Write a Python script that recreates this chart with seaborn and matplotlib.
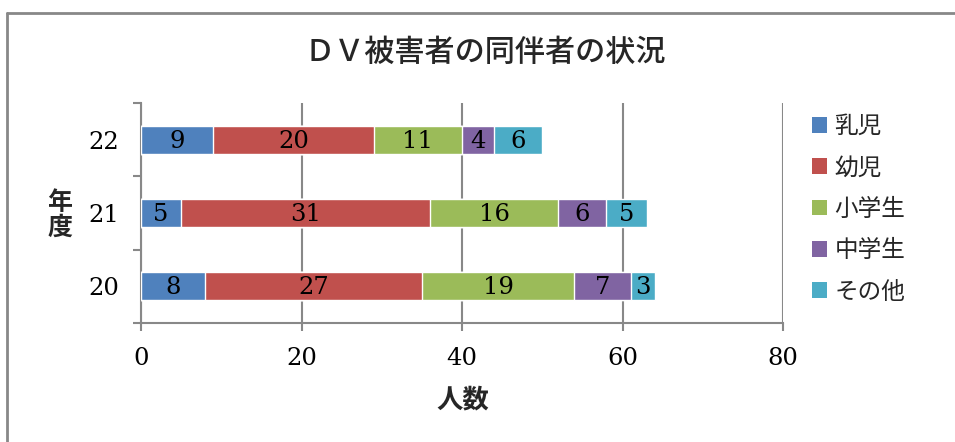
import matplotlib
matplotlib.use("Agg")
import matplotlib.pyplot as plt
import seaborn as sns
import pandas as pd
import numpy as np
from matplotlib.patches import Patch
from matplotlib.lines import Line2D

years = ["22", "21", "20"]
categories = ["乳児", "幼児", "小学生", "中学生", "その他"]
infant = [9, 5, 8]
toddler = [20, 31, 27]
elementary = [11, 16, 19]
junior = [4, 6, 7]
other = [6, 5, 3]
colors = ["#4F81BD", "#C0504D", "#9BBB59", "#8064A2", "#4BACC6"]
x_ticks = [0, 20, 40, 60, 80]

sns.set_theme(style="white")
plt.rcParams["font.family"] = ["Noto Sans CJK JP", "DejaVu Sans"]
serif = ["DejaVu Serif"]

series = [infant, toddler, elementary, junior, other]
df = pd.DataFrame({"year": years})
cum = np.zeros(len(years))
starts = []
for name, vals in zip(categories, series):
    starts.append(cum.copy())
    cum = cum + np.array(vals)
    df[name] = cum.copy()

fig = plt.figure(figsize=(9.55, 4.42), dpi=100)
ax = fig.add_axes([141 / 955, 1 - 323 / 442, (783 - 141) / 955, (323 - 103) / 442])

# draw cumulative bars from largest to smallest so segments stack
for name, col in reversed(list(zip(categories, colors))):
    sns.barplot(data=df, y="year", x=name, order=years, orient="h", color=col,
                width=0.38, edgecolor="white", linewidth=1.0, saturation=1,
                ax=ax, zorder=3)

# data labels
for name, vals, st in zip(categories, series, starts):
    for i, v in enumerate(vals):
        ax.text(st[i] + v / 2, i + 0.02, str(v), ha="center", va="center",
                fontsize=17.5, family=serif, color="black", zorder=5)

ax.set_xlim(0, 80)
ax.set_ylim(2.5, -0.5)
ax.set_xticks(x_ticks)
ax.set_xticklabels([str(t) for t in x_ticks], family=serif, fontsize=17.5)
ax.set_yticks(range(len(years)))
ax.set_yticklabels(years, family=serif, fontsize=17.5)
ax.set_yticks([-0.5, 0.5, 1.5, 2.5], minor=True)
ax.tick_params(axis="y", which="major", length=0, pad=16, colors="black")
ax.tick_params(axis="y", which="minor", length=6, width=1.5, color="#888888", direction="out", left=True)
ax.tick_params(axis="x", which="major", length=6, width=1.5, color="#888888", direction="out", pad=11, bottom=True, labelcolor="black")

ax.grid(axis="x", color="#888888", linewidth=1.5, zorder=0)
ax.grid(axis="y", visible=False)
ax.set_axisbelow(True)
for s in ["top", "right"]:
    ax.spines[s].set_visible(False)
for s in ["left", "bottom"]:
    ax.spines[s].set_color("#888888")
    ax.spines[s].set_linewidth(1.5)

ax.set_xlabel("")
ax.set_ylabel("")
fig.text(463 / 955, 1 - 400 / 442, "人数", ha="center", va="center", fontsize=19, fontweight="bold")
fig.text(60 / 955, 1 - 215 / 442, "年\n度", ha="center", va="center", fontsize=18, fontweight="bold", linespacing=1.05)
fig.text(485 / 955, 1 - 52 / 442, "ＤＶ被害者の同伴者の状況", ha="center", va="center", fontsize=21.7, fontweight="medium")

handles = [Patch(facecolor=c, edgecolor="none") for c in colors]
fig.legend(handles, categories, loc="upper left", bbox_to_anchor=(812 / 955, 1 - 115 / 442),
           frameon=False, fontsize=17, handlelength=0.65, handleheight=0.65,
           handletextpad=0.3, labelspacing=0.78, borderaxespad=0, borderpad=0)

# outer chart border (top and left edges visible)
y_top = 1 - 13 / 442
x_left = 7 / 955
fig.add_artist(Line2D([x_left, 1.05], [y_top, y_top], transform=fig.transFigure, color="#888888", linewidth=2))
fig.add_artist(Line2D([x_left, x_left], [-0.05, y_top], transform=fig.transFigure, color="#888888", linewidth=2))

fig.savefig("out.png", dpi=100)
